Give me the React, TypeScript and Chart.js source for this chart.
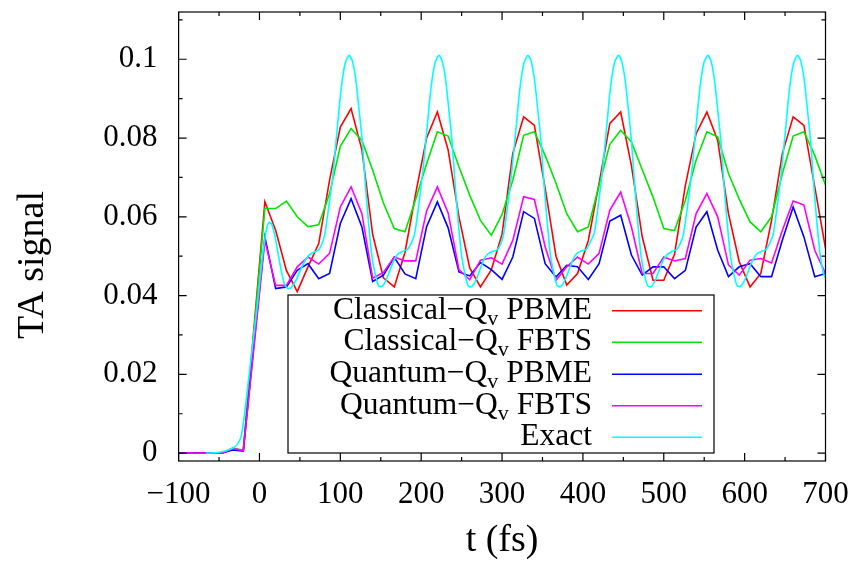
import React, { useEffect, useRef } from 'react';
import { Chart, registerables } from 'chart.js';
Chart.register(...registerables);

// time grid (fs) shared by the four approximate methods
const timeGrid = [-100,-86.7,-73.3,-60,-46.7,-33.3,-20,-6.7,6.7,20,33.3,46.7,60,73.3,86.7,100,113.3,126.7,140,153.3,166.7,180,193.3,206.7,220,233.3,246.7,260,273.3,286.7,300,313.3,326.7,340,353.3,366.7,380,393.3,406.7,420,433.3,446.7,460,473.3,486.7,500,513.3,526.7,540,553.3,566.7,580,593.3,606.7,620,633.3,646.7,660,673.3,686.7,700];

const classicalPBME = [0,0,0,0,0,0.0012,0.0006,0.032,0.0638,0.0566,0.0464,0.041,0.0473,0.0532,0.0693,0.0828,0.0875,0.077,0.0555,0.0445,0.0422,0.051,0.066,0.080,0.0866,0.077,0.060,0.047,0.0422,0.0465,0.0556,0.0761,0.0854,0.0832,0.0672,0.050,0.0427,0.0456,0.054,0.0685,0.0837,0.0866,0.073,0.055,0.0439,0.0439,0.0505,0.068,0.0811,0.0866,0.0794,0.0608,0.0486,0.0422,0.0456,0.0591,0.0761,0.0854,0.0832,0.0676,0.052];
const classicalFBTS = [0,0,0,0,0,0.0012,0.0008,0.031,0.0621,0.0621,0.064,0.060,0.0575,0.058,0.0659,0.0779,0.0824,0.0794,0.0718,0.0635,0.057,0.0562,0.0645,0.0735,0.0816,0.0805,0.0727,0.0655,0.0591,0.0553,0.0606,0.0693,0.0807,0.0816,0.0756,0.0685,0.0608,0.0562,0.0574,0.068,0.0784,0.082,0.079,0.072,0.065,0.057,0.0565,0.0642,0.0744,0.0816,0.0803,0.071,0.0645,0.0587,0.0562,0.060,0.071,0.0805,0.0816,0.0756,0.068];
const quantumPBME = [0,0,0,0,0,0.0008,0.0005,0.028,0.0549,0.0418,0.0422,0.0464,0.0481,0.0443,0.0456,0.0583,0.0646,0.0574,0.0436,0.0452,0.0497,0.0455,0.0443,0.0575,0.0638,0.0572,0.046,0.045,0.0484,0.0466,0.0441,0.0498,0.0613,0.0596,0.0481,0.0447,0.0477,0.0473,0.0441,0.0481,0.0589,0.0604,0.0503,0.0452,0.0473,0.0473,0.0443,0.0464,0.0574,0.0613,0.0515,0.0448,0.0473,0.0481,0.0448,0.0448,0.0541,0.0625,0.0549,0.0448,0.0456];
const quantumFBTS = [0,0,0,0,0,0.0012,0.0006,0.027,0.054,0.0426,0.0426,0.0473,0.0498,0.048,0.0507,0.0625,0.0676,0.0608,0.0444,0.0459,0.0498,0.0488,0.0488,0.0615,0.0676,0.061,0.0466,0.044,0.049,0.0496,0.048,0.054,0.0651,0.0644,0.0524,0.0439,0.0473,0.0498,0.048,0.0507,0.0617,0.0663,0.0574,0.0456,0.0456,0.0498,0.0488,0.0494,0.0608,0.0659,0.060,0.0478,0.0452,0.049,0.0494,0.0483,0.0566,0.064,0.063,0.0515,0.0456];

// exact result on its own (finer) time grid
const exactT = [-66,-55,-45,-37,-31,-27,-23,-19,-15,-11,-7,-3,1,5,9,12,15,19,23,27,31,35,39,44,49,55,61,67,73,77,81,86,91,96,101,106,111,
  115,119,123,127,131,135,139,143,147,151,156,161,166,171,177,183,188,
  192,197,202,207,212,217,222,
  226,230,234,238,242,246,250,254,258,262,267,272,277,282,288,294,299,
  302,307,312,317,322,327,332,
  336,340,344,348,352,356,360,364,368,372,377,382,387,392,398,404,409,
  414,419,424,429,434,439,444,
  448,452,456,460,464,468,472,476,480,484,489,494,499,504,510,516,521,
  524.5,529.5,534.5,539.5,544.5,549.5,554.5,
  558.5,562.5,566.5,570.5,574.5,578.5,582.5,586.5,590.5,594.5,599.5,604.5,609.5,614.5,620.5,626.5,631.5,
  635.5,640.5,645.5,650.5,655.5,660.5,665.5,
  669.5,673.5,677.5,681.5,685.5,689.5,693.5,697.5,700];
const exactV = [0,0.0001,0.0004,0.0009,0.0015,0.0024,0.004,0.009,0.016,0.023,0.030,0.037,0.045,0.052,0.0572,0.0586,0.0582,0.0553,0.0508,0.0462,0.0428,0.0418,0.042,0.0434,0.0457,0.0484,0.0502,0.051,0.0516,0.053,0.0558,0.063,0.071,0.082,0.0925,0.099,0.101,
  0.0995,0.095,0.0875,0.0794,0.068,0.0583,0.050,0.0456,0.0426,0.0423,0.0437,0.0462,0.0488,0.0505,0.0512,0.0517,0.0535,
  0.0558,0.063,0.0715,0.082,0.0925,0.099,0.101,
  0.0995,0.0952,0.0876,0.0794,0.0682,0.0583,0.0502,0.0456,0.0425,0.0422,0.0436,0.0462,0.0489,0.0505,0.0512,0.0516,0.0534,
  0.0557,0.0628,0.0715,0.0818,0.0924,0.099,0.101,
  0.0995,0.095,0.0875,0.0795,0.068,0.0584,0.050,0.0457,0.0426,0.0422,0.0436,0.0461,0.0488,0.0506,0.0513,0.0517,0.0536,
  0.0559,0.063,0.0716,0.082,0.0926,0.0991,0.101,
  0.0994,0.0951,0.0876,0.0793,0.0681,0.0582,0.050,0.0455,0.0425,0.0422,0.0437,0.0463,0.0488,0.0504,0.0512,0.0517,0.0535,
  0.0558,0.0629,0.0714,0.0819,0.0925,0.099,0.101,
  0.0995,0.095,0.0875,0.0794,0.068,0.0583,0.0501,0.0456,0.0426,0.0423,0.0437,0.0462,0.0488,0.0505,0.0512,0.0517,0.0535,
  0.0558,0.063,0.0715,0.082,0.0925,0.099,0.101,
  0.0995,0.095,0.0875,0.0794,0.068,0.0583,0.050,0.0456,0.0445];

const seriesNames = ['Classical\u2212Q_v PBME', 'Classical\u2212Q_v FBTS', 'Quantum\u2212Q_v PBME', 'Quantum\u2212Q_v FBTS', 'Exact'];
const seriesColors = ['#ff0000', '#00e600', '#0000ff', '#ff00ff', '#00ffff'];

const xMajorTicks = [-100, 0, 100, 200, 300, 400, 500, 600, 700];
const xMinorTicks = [-50, 50, 150, 250, 350, 450, 550, 650];
const yMajorTicks = [0, 0.02, 0.04, 0.06, 0.08, 0.1];
const yMinorTicks = [0.01, 0.03, 0.05, 0.07, 0.09, 0.11];

const xTitle = 't (fs)';
const yTitle = 'TA signal';
const FONT = '"Liberation Serif", "Times New Roman", serif';

const decorPlugin = {
  id: 'decor',
  afterDatasetsDraw(chart: any) {
    const { ctx, chartArea: a, scales } = chart;
    const xs = scales.x, ys = scales.y;
    ctx.save();
    ctx.strokeStyle = '#000';
    ctx.lineWidth = 1.2;
    ctx.beginPath();
    const tick = (len: number, vals: number[], axis: 'x' | 'y') => {
      vals.forEach((v) => {
        if (axis === 'x') {
          const p = xs.getPixelForValue(v);
          ctx.moveTo(p, a.bottom); ctx.lineTo(p, a.bottom - len);
          ctx.moveTo(p, a.top); ctx.lineTo(p, a.top + len);
        } else {
          const p = ys.getPixelForValue(v);
          ctx.moveTo(a.left, p); ctx.lineTo(a.left + len, p);
          ctx.moveTo(a.right, p); ctx.lineTo(a.right - len, p);
        }
      });
    };
    tick(8, xMajorTicks, 'x');
    tick(4, xMinorTicks, 'x');
    tick(8, yMajorTicks, 'y');
    tick(4, yMinorTicks, 'y');
    ctx.stroke();
    ctx.strokeRect(a.left, a.top, a.right - a.left, a.bottom - a.top);

    // legend box
    const bx = 288, by = 295, bw = 426, bh = 158;
    ctx.fillStyle = '#fff';
    ctx.fillRect(bx, by, bw, bh);
    ctx.lineWidth = 1.2;
    ctx.strokeStyle = '#000';
    ctx.strokeRect(bx, by, bw, bh);
    const rowY = [310.7, 342.3, 374.3, 405.7, 437.3];
    const textRight = 592;
    const mainFont = `31.5px ${FONT}`;
    const subFont = `22px ${FONT}`;
    seriesNames.forEach((name, i) => {
      const y = rowY[i];
      const parts = name.split('_v');
      ctx.fillStyle = '#000';
      ctx.textBaseline = 'alphabetic';
      ctx.textAlign = 'left';
      ctx.font = mainFont;
      if (parts.length === 2) {
        const w0 = ctx.measureText(parts[0]).width;
        const w2 = ctx.measureText(parts[1]).width;
        ctx.font = subFont;
        const w1 = ctx.measureText('v').width;
        let x = textRight - (w0 + w1 + w2);
        ctx.font = mainFont;
        ctx.fillText(parts[0], x, y + 8);
        x += w0;
        ctx.font = subFont;
        ctx.fillText('v', x, y + 14);
        x += w1;
        ctx.font = mainFont;
        ctx.fillText(parts[1], x, y + 8);
      } else {
        ctx.textAlign = 'right';
        ctx.fillText(name, textRight, y + 8);
      }
      ctx.strokeStyle = seriesColors[i];
      ctx.lineWidth = 1.6;
      ctx.beginPath();
      ctx.moveTo(612, y);
      ctx.lineTo(702, y);
      ctx.stroke();
    });
    ctx.restore();
  },
  afterDraw(chart: any) {
    const { ctx, chartArea: a } = chart;
    ctx.save();
    ctx.fillStyle = '#000';
    ctx.font = `38px ${FONT}`;
    ctx.textAlign = 'center';
    ctx.textBaseline = 'middle';
    ctx.fillText(xTitle, (a.left + a.right) / 2, 541);
    ctx.translate(33, 265);
    ctx.rotate(-Math.PI / 2);
    ctx.fillText(yTitle, 0, 0);
    ctx.restore();
  },
};

export default function App() {
  const ref = useRef<HTMLCanvasElement | null>(null);
  useEffect(() => {
    document.body.style.margin = '0';
    const canvas = ref.current!;
    const mk = (vals: number[]) => timeGrid.map((t, i) => ({ x: t, y: vals[i] }));
    const allSeries = [classicalPBME, classicalFBTS, quantumPBME, quantumFBTS];
    const datasets: any[] = allSeries.map((vals, i) => ({
      label: seriesNames[i],
      data: mk(vals),
      borderColor: seriesColors[i],
      backgroundColor: seriesColors[i],
      borderWidth: 1.6,
      pointRadius: 0,
      tension: 0,
      order: 5 - i,
    }));
    datasets.push({
      label: seriesNames[4],
      data: exactT.map((t, i) => ({ x: t, y: exactV[i] })),
      borderColor: seriesColors[4],
      backgroundColor: seriesColors[4],
      borderWidth: 1.6,
      pointRadius: 0,
      tension: 0.25,
      order: 1,
    });
    const tickFont = { family: FONT, size: 31 };
    const chart = new Chart(canvas, {
      type: 'line',
      data: { datasets },
      plugins: [decorPlugin],
      options: {
        animation: false,
        responsive: false,
        devicePixelRatio: 1,
        layout: { padding: { top: 12, right: 32.5, left: 0, bottom: 0 } },
        plugins: { legend: { display: false }, tooltip: { enabled: false } },
        scales: {
          x: {
            type: 'linear',
            min: -100,
            max: 700,
            afterBuildTicks: (s: any) => { s.ticks = xMajorTicks.map((v) => ({ value: v })); },
            afterFit: (s: any) => { s.height = 102; s.paddingLeft = 0; s.paddingRight = 0; s.paddingTop = 0; s.paddingBottom = 0; },
            grid: { display: false, drawTicks: false },
            border: { display: false },
            ticks: {
              font: tickFont,
              color: '#000',
              padding: 15,
              maxRotation: 0,
              autoSkip: false,
              callback: (v: any) => (v < 0 ? '\u2212' + Math.abs(v) : String(v)),
            },
          },
          y: {
            type: 'linear',
            min: -0.002,
            max: 0.112,
            afterBuildTicks: (s: any) => { s.ticks = yMajorTicks.map((v) => ({ value: v })); },
            afterFit: (s: any) => { s.width = 178.6; s.paddingTop = 0; s.paddingBottom = 0; s.paddingLeft = 0; s.paddingRight = 0; },
            grid: { display: false, drawTicks: false },
            border: { display: false },
            ticks: {
              font: tickFont,
              color: '#000',
              padding: 21,
              autoSkip: false,
              callback: (v: any) => String(Number(Number(v).toFixed(3))),
            },
          },
        },
      },
    } as any);
    return () => chart.destroy();
  }, []);
  return <canvas ref={ref} width={858} height={563} style={{ display: 'block', width: 858, height: 563 }} />;
}
